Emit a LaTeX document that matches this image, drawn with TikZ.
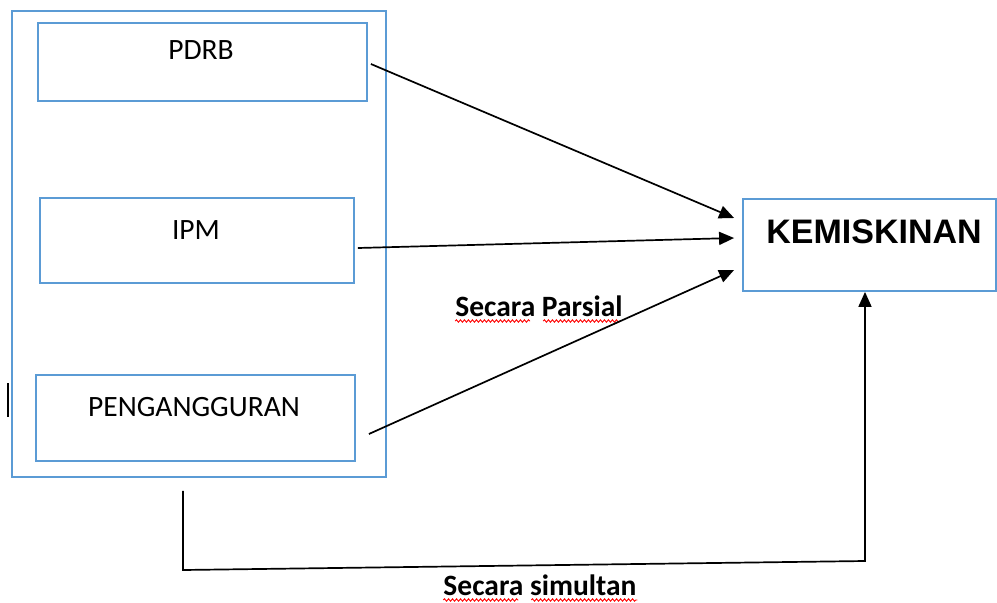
\documentclass[tikz,border=0pt]{standalone}
\usepackage{fontspec}
\setmainfont{Carlito}
\newfontfamily\headfont{Liberation Sans}
\usetikzlibrary{arrows.meta,calc,decorations.pathmorphing}
\definecolor{boxblue}{HTML}{5B9BD5}
\tikzset{
  bluebox/.style={draw=boxblue,line width=1.8pt,minimum width=#1,inner sep=0pt},
  lbl/.style={anchor=base,font=\fontsize{29.5}{34}\selectfont,inner sep=0pt},
  conn/.style={line width=1.7pt,-{Triangle[length=15pt,width=13pt]}},
  squig/.style={draw=red,line width=0.9pt,decorate,decoration={snake,segment length=4pt,amplitude=1.2pt}}
}
\begin{document}
\begin{tikzpicture}[x=1pt,y=-1pt]
\useasboundingbox (0,0) rectangle (997,603);
% boxes
\node[bluebox=374pt,minimum height=466pt] (outer) at (199,244) {};
\node[bluebox=329pt,minimum height=78pt] (pdrb) at (202.5,62) {};
\node[bluebox=314pt,minimum height=85pt] (ipm) at (197,240.5) {};
\node[bluebox=319pt,minimum height=86pt] (peng) at (195.5,418) {};
\node[bluebox=253pt,minimum height=92pt] (kem) at (869.5,245) {};
% texts
\node[lbl] (tpdrb) at (201,59) {PDRB};
\node[lbl] (tipm) at (196,239) {IPM};
\node[lbl] (tpeng) at (194,416) {PENGANGGURAN};
\node[lbl,font=\headfont\bfseries\fontsize{34}{38}\selectfont] (tkem) at (874,243) {KEMISKINAN};
\node[lbl,font=\bfseries\fontsize{29.5}{34}\selectfont] (tpar) at (539,316) {Secara Parsial};
\node[lbl,font=\bfseries\fontsize{29.5}{34}\selectfont] (tsim) at (540,595) {Secara simultan};
% spell-check squiggles
\path[squig] ($(tpar.base west)+(0,5)$) -- ++(75,0);
\path[squig] ($(tpar.base west)+(88,5)$) -- ++(78,0);
\path[squig] ($(tsim.base west)+(0,5)$) -- ++(75,0);
\path[squig] ($(tsim.base west)+(88,5)$) -- ++(106,0);
% small mark
\draw[line width=1.8pt] ($(outer.west)+(-3,139)$) -- ++(0,34);
% partial arrows
\draw[conn] ($(pdrb.east)+(3,2)$) -- ($(kem.west)+(-8,-27)$);
\draw[conn] ($(ipm.east)+(3,7.5)$) -- ($(kem.west)+(-8,-7)$);
\draw[conn] ($(peng.east)+(13,16)$) -- ($(kem.west)+(-8,25)$);
% simultaneous arrow
\coordinate (simstart) at ($(outer.south)+(-16,13)$);
\coordinate (simcorner) at (183,570);
\coordinate (simright) at (865,561);
\draw[conn] (simstart) -- (simcorner) -- (simright) -- (kem.south -| simright);
\end{tikzpicture}
\end{document}
